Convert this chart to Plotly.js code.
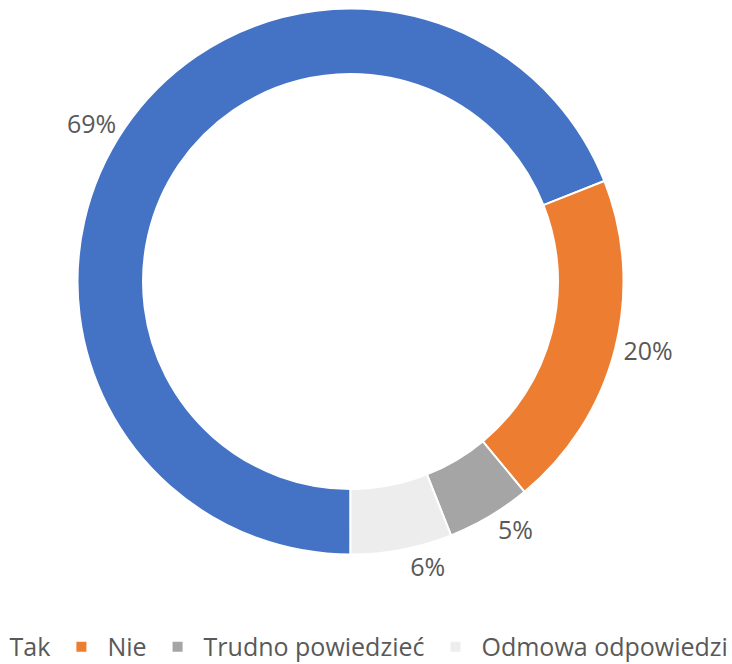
<!DOCTYPE html>
<html>
<head>
<meta charset="utf-8">
<script src="https://cdn.plot.ly/plotly-3.0.1.min.js"></script>
<style>
html,body{margin:0;padding:0;background:#fff;overflow:hidden;width:732px;height:664px;}
#chart{width:800px;height:664px;margin-left:-40px;}
</style>
</head>
<body>
<div id="chart"></div>
<script>
const categories = ["Tak", "Nie", "Trudno powiedzieć", "Odmowa odpowiedzi"];
const values = [69, 20, 5, 6];
const colors = ["#4472C4", "#ED7D31", "#A5A5A5", "#EDEDED"];

const trace = {
  type: "pie",
  labels: categories,
  values: values,
  sort: false,
  direction: "clockwise",
  rotation: 180,
  hole: 0.76,
  marker: {colors: colors, line: {color: "#ffffff", width: 2}},
  textinfo: "percent",
  texttemplate: "%{percent:.0%}",
  textposition: "outside",
  outsidetextfont: {family: "Open Sans, sans-serif", size: 25, color: "#595959"},
  automargin: false,
  domain: {x: [0.1469, 0.8294], y: [0.1254, 0.9866]},
  hoverinfo: "label+percent"
};

const layout = {
  width: 800,
  height: 664,
  margin: {l: 0, r: 0, t: 0, b: 30, autoexpand: false},
  paper_bgcolor: "#ffffff",
  plot_bgcolor: "#ffffff",
  showlegend: true,
  legend: {
    orientation: "h",
    x: -0.003,
    xanchor: "left",
    y: -0.0205,
    yanchor: "middle",
    itemwidth: 42,
    font: {family: "Open Sans, sans-serif", size: 25, color: "#595959"},
    traceorder: "normal"
  }
};

Plotly.newPlot("chart", [trace], layout, {displayModeBar: false, staticPlot: true});
</script>
</body>
</html>
